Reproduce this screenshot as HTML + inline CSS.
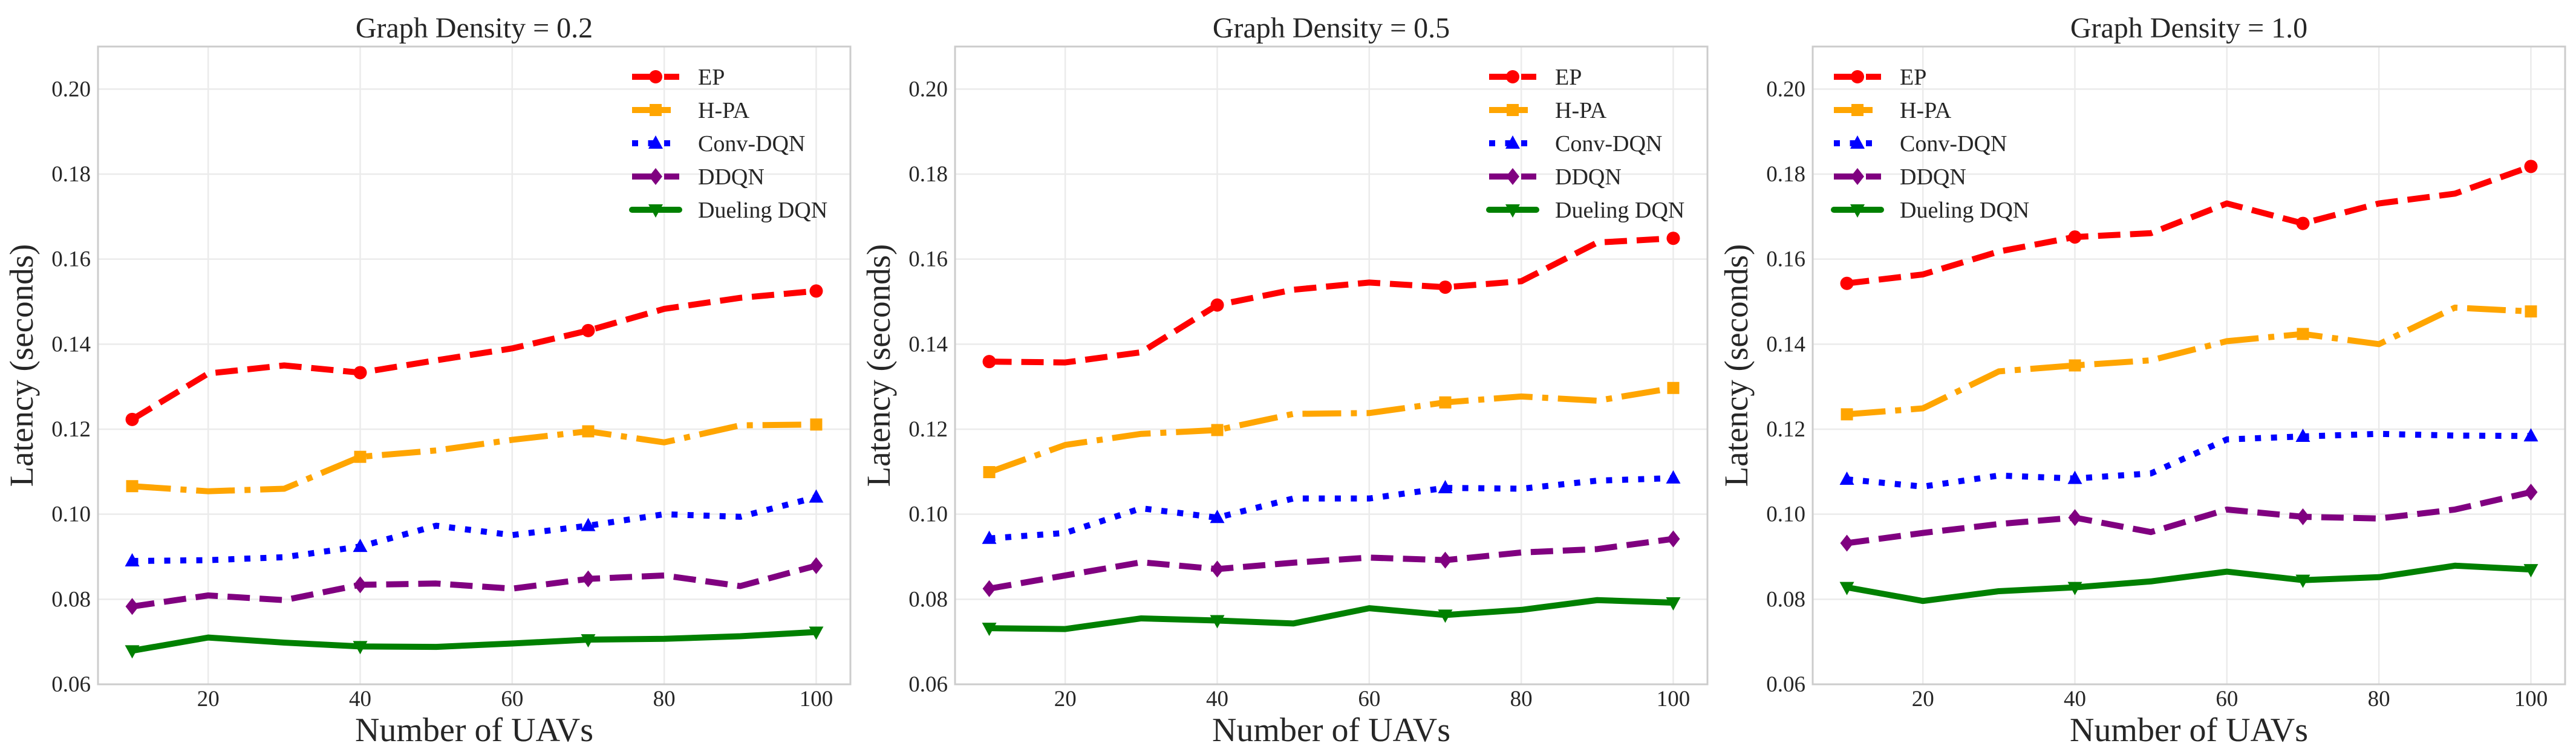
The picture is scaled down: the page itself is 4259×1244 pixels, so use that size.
<!DOCTYPE html>
<html><head><meta charset="utf-8"><style>
html,body{margin:0;padding:0;background:#fff;}
svg{display:block;font-family:"Liberation Serif","DejaVu Serif",serif;}
</style></head><body>
<svg id="chart" width="4259" height="1244" viewBox="0 0 4259 1244" xmlns="http://www.w3.org/2000/svg"></svg>
<script>
const xValues = [10,20,30,40,50,60,70,80,90,100];
const xTicks = [20,40,60,80,100];
const yTicks = [0.06,0.08,0.10,0.12,0.14,0.16,0.18,0.20];
const panelTitles = ["Graph Density = 0.2","Graph Density = 0.5","Graph Density = 1.0"];
const seriesNames = ["EP","H-PA","Conv-DQN","DDQN","Dueling DQN"];
const epD02 = [0.1223,0.1331,0.1350,0.1333,0.1362,0.1390,0.1432,0.1483,0.1509,0.1525];
const hpaD02 = [0.1066,0.1054,0.1060,0.1135,0.1150,0.1175,0.1195,0.1169,0.1209,0.1211];
const convD02 = [0.0890,0.0892,0.0899,0.0924,0.0973,0.0951,0.0973,0.1000,0.0994,0.1040];
const ddqnD02 = [0.0783,0.0809,0.0798,0.0834,0.0837,0.0825,0.0848,0.0856,0.0831,0.0879];
const duelD02 = [0.0679,0.0710,0.0698,0.0689,0.0688,0.0696,0.0705,0.0707,0.0713,0.0723];
const epD05 = [0.1359,0.1357,0.1381,0.1492,0.1528,0.1545,0.1534,0.1548,0.1639,0.1649];
const hpaD05 = [0.1099,0.1163,0.1189,0.1198,0.1236,0.1238,0.1263,0.1277,0.1267,0.1297];
const convD05 = [0.0943,0.0956,0.1014,0.0992,0.1037,0.1037,0.1062,0.1060,0.1079,0.1085];
const ddqnD05 = [0.0825,0.0856,0.0887,0.0871,0.0886,0.0898,0.0892,0.0910,0.0918,0.0942];
const duelD05 = [0.0732,0.0730,0.0755,0.0750,0.0743,0.0779,0.0763,0.0775,0.0798,0.0792];
const epD10 = [0.1543,0.1564,0.1618,0.1652,0.1661,0.1731,0.1684,0.1731,0.1754,0.1818];
const hpaD10 = [0.1235,0.1249,0.1336,0.1350,0.1362,0.1407,0.1424,0.1400,0.1486,0.1477];
const convD10 = [0.1082,0.1065,0.1091,0.1084,0.1096,0.1176,0.1183,0.1189,0.1185,0.1184];
const ddqnD10 = [0.0932,0.0956,0.0977,0.0992,0.0958,0.1011,0.0994,0.0990,0.1011,0.1052];
const duelD10 = [0.0828,0.0796,0.0819,0.0828,0.0842,0.0865,0.0845,0.0852,0.0879,0.0870];
const panelSeries = [[epD02,hpaD02,convD02,ddqnD02,duelD02],[epD05,hpaD05,convD05,ddqnD05,duelD05],[epD10,hpaD10,convD10,ddqnD10,duelD10]];

const NS="http://www.w3.org/2000/svg";
const svg=document.getElementById('chart');
const colors=["#ff0000","#ffa500","#0000ff","#800080","#008000"];
const dashes=["37,16","64,16,10,16","10,16.5","37,16",""];
const markers=["circle","square","triangle","diamond","tri-down"];
const panelLeft=[162,1579,2997], PW=1244, TOP=77, BOT=1132;
const XMIN=5.5,XMAX=104.5,YMIN=0.06,YMAX=0.21;
const legendOff=[883,883,35];
function mk(tag,attrs,parent){const e=document.createElementNS(NS,tag);for(const k in attrs)e.setAttribute(k,attrs[k]);(parent||svg).appendChild(e);return e;}
function marker(g,type,cx,cy,col){
  let e;
  if(type==="circle") e=mk('circle',{cx:cx,cy:cy,r:11,fill:col},g);
  else if(type==="square") e=mk('rect',{x:cx-10,y:cy-10,width:20,height:20,fill:col},g);
  else if(type==="triangle") e=mk('polygon',{points:`${cx},${cy-13} ${cx+12},${cy+9} ${cx-12},${cy+9}`,fill:col},g);
  else if(type==="diamond") e=mk('polygon',{points:`${cx},${cy-14} ${cx+11},${cy} ${cx},${cy+14} ${cx-11},${cy}`,fill:col},g);
  else e=mk('polygon',{points:`${cx},${cy+13} ${cx+12},${cy-9} ${cx-12},${cy-9}`,fill:col},g);
  
  
}
panelSeries.forEach((series,p)=>{
  const L=panelLeft[p];
  const xs=v=>L+(v-XMIN)/(XMAX-XMIN)*PW;
  const ys=v=>BOT-(v-YMIN)/(YMAX-YMIN)*(BOT-TOP);
  const g=mk('g',{});
  
  
  // grid
  xTicks.forEach(t=>{const l=mk('line',{x1:xs(t),x2:xs(t),y1:TOP,y2:BOT,stroke:'#ebebeb','stroke-width':2.5},g);
    
    const tx=mk('text',{x:xs(t),y:1168,'font-size':37,'text-anchor':'middle',fill:'#262626'},g);tx.textContent=t;
    });
  yTicks.forEach(t=>{const l=mk('line',{x1:L,x2:L+PW,y1:ys(t),y2:ys(t),stroke:'#ebebeb','stroke-width':2.5},g);
    
    const tx=mk('text',{x:L-12,y:ys(t)+12,'font-size':37,'text-anchor':'end',fill:'#262626'},g);tx.textContent=t.toFixed(2);
    });
  // series
  series.forEach((vals,s)=>{
    const sg=mk('g',{},g);
    
    
    const pts=vals.map((v,i)=>xs(xValues[i])+','+ys(v)).join(' ');
    const a={points:pts,fill:'none',stroke:colors[s],'stroke-width':10,'stroke-linejoin':'round'};
    if(dashes[s])a['stroke-dasharray']=dashes[s]; else a['stroke-linecap']='round';
    const pl=mk('polyline',a,sg);
    
    vals.forEach((v,i)=>{if(i%3===0)marker(sg,markers[s],xs(xValues[i]),ys(v),colors[s]);});
  });
  // frame
  const fr=mk('rect',{x:L,y:TOP,width:PW,height:BOT-TOP,fill:'none',stroke:'#cccccc','stroke-width':3},g);
  
  // title & labels
  const ti=mk('text',{x:L+PW/2,y:62,'font-size':48,'text-anchor':'middle',fill:'#262626'},g);ti.textContent=panelTitles[p];
  
  const xl=mk('text',{x:L+PW/2,y:1226,'font-size':56,'text-anchor':'middle',fill:'#262626'},g);xl.textContent='Number of UAVs';
  
  const yx=L-108, yc=(TOP+BOT)/2;
  const yl=mk('text',{x:yx,y:yc,'font-size':55,'text-anchor':'middle',fill:'#262626',transform:`rotate(-90 ${yx} ${yc})`},g);yl.textContent='Latency (seconds)';
  
  // legend
  const lg=mk('g',{},g);
  
  const lx=L+legendOff[p];
  seriesNames.forEach((n,s)=>{
    const ry=127+s*55;
    const eg=mk('g',{},lg);
    
    const a={x1:lx,x2:lx+78,y1:ry,y2:ry,stroke:colors[s],'stroke-width':10};
    if(dashes[s])a['stroke-dasharray']=dashes[s]; else a['stroke-linecap']='round';
    mk('line',a,eg);
    marker(eg,markers[s],lx+39,ry,colors[s]);
    const t=mk('text',{x:lx+109,y:ry+13,'font-size':38,fill:'#262626'},eg);t.textContent=n;
  });
});
</script>
</body></html>
